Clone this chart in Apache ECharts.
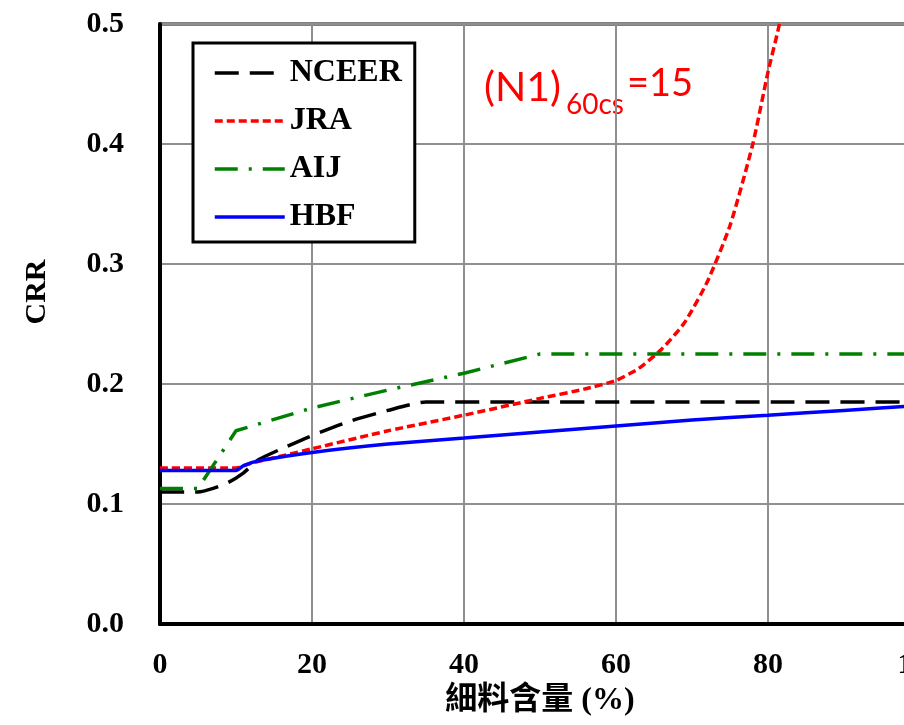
<!DOCTYPE html>
<html>
<head>
<meta charset="utf-8">
<script src="https://cdn.jsdelivr.net/npm/echarts@6/dist/echarts.min.js"></script>
<style>html,body{margin:0;padding:0;background:#fff;}#c{width:904px;height:725px;}</style>
</head>
<body>
<div id="c"></div>
<script>
// ---- data (fines content %, CRR) ----
const seriesNames = ['NCEER', 'JRA', 'AIJ', 'HBF'];
const nceer = [[0,0.11],[5,0.11],[7,0.113],[9,0.118],[11,0.126],[13,0.137],[16,0.146],[20,0.157],[25,0.169],[30,0.178],[35,0.185],[100,0.185]];
const jra = [[0,0.13],[10,0.13],[12,0.134],[20,0.146],[30,0.161],[40,0.174],[50,0.188],[56,0.196],[60,0.203],[63,0.213],[66,0.229],[69,0.251],[72,0.285],[75,0.332],[78,0.4],[80,0.46],[81.5,0.5],[82.5,0.54]];
const aij = [[0,0.113],[5,0.113],[10,0.161],[20,0.18],[30,0.195],[40,0.209],[50,0.225],[100,0.225]];
const hbf = [[0,0.128],[10,0.128],[11,0.132],[13,0.136],[20,0.143],[30,0.15],[40,0.155],[50,0.16],[60,0.165],[70,0.17],[80,0.174],[90,0.178],[100,0.182]];
const xTicks = [0, 20, 40, 60, 80, 100];
const yTicks = [0.0, 0.1, 0.2, 0.3, 0.4, 0.5];
const xTitle = '細料含量 (%)';
const yTitle = 'CRR';

const chart = echarts.init(document.getElementById('c'));
const serif = '"Liberation Serif", "Times New Roman", serif';
const option = {
  animation: false,
  backgroundColor: '#fff',
  grid: { left: 160, top: 24, width: 760, height: 600, outerBoundsMode: 'none', containLabel: false,
          show: true, borderColor: '#000', borderWidth: 3, backgroundColor: 'transparent' },
  legend: {
    orient: 'vertical', left: 193, top: 43,
    data: seriesNames,
    itemWidth: 70, itemHeight: 14, itemGap: 16,
    padding: [14, 13, 9, 20],
    borderColor: '#000', borderWidth: 3, backgroundColor: '#fff',
    itemStyle: { opacity: 0, borderWidth: 0 },
    lineStyle: { width: 3.5 },
    textStyle: { fontFamily: serif, fontWeight: 'bold', fontSize: 32, color: '#000', lineHeight: 30 }
  },
  xAxis: {
    type: 'value', min: xTicks[0], max: xTicks[xTicks.length - 1], interval: 20,
    name: xTitle, nameLocation: 'middle', nameGap: 56,
    nameTextStyle: { fontFamily: serif + ', "Noto Sans CJK TC"', fontWeight: 'bold', fontSize: 32, color: '#000' },
    axisLine: { show: true, lineStyle: { color: '#000', width: 4 } },
    axisTick: { show: false },
    axisLabel: { margin: 26, fontFamily: serif, fontWeight: 'bold', fontSize: 30, color: '#000' },
    splitLine: { show: true, lineStyle: { color: '#8f8f8f', width: 2 } }
  },
  yAxis: {
    type: 'value', min: yTicks[0], max: yTicks[yTicks.length - 1], interval: 0.1,
    name: yTitle, nameLocation: 'middle', nameGap: 108, nameRotate: 90,
    nameTextStyle: { fontFamily: serif, fontWeight: 'bold', fontSize: 30, color: '#000', padding: [0, 0, 0, 64] },
    axisLine: { show: true, lineStyle: { color: '#000', width: 4 } },
    axisTick: { show: false },
    axisLabel: { margin: 36, fontFamily: serif, fontWeight: 'bold', fontSize: 30, color: '#000', formatter: v => v.toFixed(1) },
    splitLine: { show: true, lineStyle: { color: '#8f8f8f', width: 2 } }
  },
  graphic: [
    { type: 'text', left: 484, top: 67, style: { text: '(N1)', fontFamily: 'Lato', fontSize: 41, fill: '#ff0000' } },
    { type: 'text', left: 566, top: 91, style: { text: '60cs', fontFamily: 'Lato', fontSize: 28, fill: '#ff0000' } },
    { type: 'text', left: 627, top: 65, style: { text: '=15', fontFamily: 'Lato', fontSize: 38, fill: '#ff0000' } }
  ],
  series: [
    { name: seriesNames[0], type: 'line', data: nceer, symbol: 'none', smooth: 0.2, clip: true,
      lineStyle: { color: '#000', width: 3.5, type: [24, 11] }, itemStyle: { color: '#000' } },
    { name: seriesNames[1], type: 'line', data: jra, symbol: 'none', smooth: 0.2, clip: true,
      lineStyle: { color: '#ff0000', width: 3.5, type: [8, 4] }, itemStyle: { color: '#ff0000' } },
    { name: seriesNames[2], type: 'line', data: aij, symbol: 'none', clip: true,
      lineStyle: { color: '#008000', width: 3.5, type: [23, 11, 3, 11] }, itemStyle: { color: '#008000' } },
    { name: seriesNames[3], type: 'line', data: hbf, symbol: 'none', smooth: 0.2, clip: true,
      lineStyle: { color: '#0000ff', width: 3.5 }, itemStyle: { color: '#0000ff' } }
  ]
};
chart.setOption(option);
</script>
</body>
</html>
